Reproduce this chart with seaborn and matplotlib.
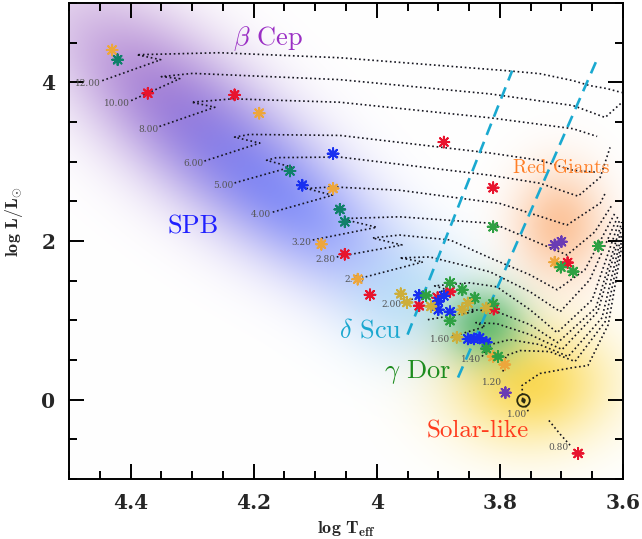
import numpy as np
import pandas as pd
import matplotlib
matplotlib.use("Agg")
import matplotlib.pyplot as plt
from matplotlib.ticker import MultipleLocator
import seaborn as sns

# evolutionary tracks, log Teff / log L
m12_logt = [4.446, 4.351, 4.390, 4.255, 4.060, 3.789, 3.735, 3.681, 3.654, 3.626, 3.602]
m12_logl = [4.021, 4.285, 4.348, 4.373, 4.310, 4.147, 4.109, 4.021, 3.959, 3.921, 3.871]
m10_logt = [4.399, 4.320, 4.350, 4.299, 4.060, 3.816, 3.681, 3.629, 3.602]
m10_logl = [3.770, 4.046, 4.072, 4.113, 4.034, 3.854, 3.707, 3.557, 3.745]
m8_logt = [4.353, 4.263, 4.301, 4.234, 4.060, 3.816, 3.681, 3.642]
m8_logl = [3.444, 3.686, 3.749, 3.792, 3.749, 3.553, 3.415, 3.318]
m6_logt = [4.280, 4.190, 4.231, 4.207, 4.060, 3.816, 3.735, 3.681, 3.642]
m6_logl = [3.008, 3.234, 3.309, 3.343, 3.331, 3.109, 3.017, 2.891, 2.866]
m5_logt = [4.231, 4.139, 4.179, 4.163, 4.060, 3.816, 3.735, 3.673, 3.637, 3.621]
m5_logl = [2.732, 2.933, 3.017, 3.051, 3.058, 2.829, 2.728, 2.565, 2.803, 3.180]
m4_logt = [4.169, 4.072, 4.114, 4.072, 3.963, 3.800, 3.691, 3.637, 3.628]
m4_logl = [2.364, 2.577, 2.662, 2.682, 2.640, 2.473, 2.201, 2.477, 2.615]
m32_logt = [4.104, 4.000, 4.049, 4.044, 3.963, 3.811, 3.691, 3.646, 3.618]
m32_logl = [2.013, 2.173, 2.264, 2.285, 2.305, 2.222, 1.824, 2.113, 2.452]
m28_logt = [4.065, 3.959, 4.007, 3.963, 3.881, 3.816, 3.751, 3.707, 3.662, 3.613]
m28_logl = [1.799, 1.950, 2.038, 2.075, 2.013, 1.787, 1.573, 1.385, 1.636, 2.352]
m24_logt = [4.018, 3.925, 3.963, 3.914, 3.816, 3.751, 3.702, 3.654, 3.608]
m24_logl = [1.548, 1.736, 1.787, 1.799, 1.611, 1.360, 1.109, 1.510, 2.314]
m20_logt = [3.958, 3.886, 3.906, 3.849, 3.805, 3.751, 3.707, 3.650, 3.605]
m20_logl = [1.234, 1.385, 1.435, 1.473, 1.422, 1.134, 0.845, 1.259, 2.276]
m18_logt = [3.917, 3.841, 3.862, 3.805, 3.751, 3.706, 3.644, 3.602]
m18_logl = [1.008, 1.109, 1.146, 1.109, 0.945, 0.719, 1.159, 2.239]
m16_logt = [3.878, 3.824, 3.839, 3.805, 3.751, 3.699, 3.641, 3.602]
m16_logl = [0.795, 0.920, 0.971, 0.958, 0.820, 0.632, 1.109, 2.163]
m14_logt = [3.829, 3.816, 3.784, 3.735, 3.689, 3.634, 3.602]
m14_logl = [0.544, 0.694, 0.757, 0.694, 0.544, 1.033, 2.088]
m1p2_logt = [3.795, 3.790, 3.767, 3.719, 3.678, 3.629, 3.602]
m1p2_logl = [0.355, 0.556, 0.619, 0.606, 0.481, 0.983, 2.012]
m1p0_logt = [3.754, 3.763, 3.764, 3.735, 3.681, 3.657, 3.624, 3.602]
m1p0_logl = [-0.147, 0.004, 0.179, 0.330, 0.405, 0.430, 0.945, 1.925]
m0p8_logt = [3.686, 3.702, 3.722]
m0p8_logl = [-0.574, -0.436, -0.247]

track_labels = ["12.00", "10.00", "8.00", "6.00", "5.00", "4.00", "3.20", "2.80",
                "2.40", "2.00", "", "1.60", "1.40", "1.20", "1.00", "0.80"]
track_logt = [m12_logt, m10_logt, m8_logt, m6_logt, m5_logt, m4_logt, m32_logt, m28_logt,
              m24_logt, m20_logt, m18_logt, m16_logt, m14_logt, m1p2_logt, m1p0_logt, m0p8_logt]
track_logl = [m12_logl, m10_logl, m8_logl, m6_logl, m5_logl, m4_logl, m32_logl, m28_logl,
              m24_logl, m20_logl, m18_logl, m16_logl, m14_logl, m1p2_logl, m1p0_logl, m0p8_logl]

# instability strip edges
blue_edge_logt = [3.950, 3.780]
blue_edge_logl = [0.820, 4.147]
red_edge_logt = [3.868, 3.641]
red_edge_logl = [0.279, 4.310]

# observed stars by colour group
red_logt = [4.372, 4.231, 4.052, 3.891, 3.811, 4.011, 3.931, 3.901, 3.881, 3.810, 3.690, 3.673]
red_logl = [3.862, 3.842, 1.833, 3.247, 2.672, 1.322, 1.184, 1.284, 1.363, 1.142, 1.728, -0.678]
orange_logt = [4.430, 4.191, 4.071, 4.090, 4.031, 3.711, 3.811, 3.792]
orange_logl = [4.407, 3.611, 2.662, 1.959, 1.519, 1.733, 0.544, 0.443]
teal_logt = [4.421, 4.141, 4.060, 4.052]
teal_logl = [4.285, 2.883, 2.398, 2.242]
blue_logt = [4.071, 4.121, 3.931, 3.900, 3.900, 3.891, 3.881, 3.852, 3.842, 3.833, 3.822]
blue_logl = [3.101, 2.703, 1.316, 1.238, 1.134, 1.309, 1.109, 0.766, 0.766, 0.778, 0.723]
green_logt = [3.811, 3.920, 3.881, 3.861, 3.881, 3.841, 3.811, 3.701, 3.681, 3.640, 3.822, 3.803]
green_logl = [2.180, 1.313, 1.473, 1.385, 0.996, 1.281, 1.209, 1.670, 1.615, 1.937, 0.644, 0.544]
gold_logt = [3.961, 3.951, 3.912, 3.861, 3.852, 3.822, 3.870]
gold_logl = [1.335, 1.225, 1.175, 1.134, 1.218, 1.155, 0.786]
purple_logt = [3.711, 3.700, 3.791]
purple_logl = [1.950, 1.991, 0.088]
sun_logt, sun_logl = 3.763, 0.0

star_colors = {"red": "#e8142e", "orange": "#eda63c", "teal": "#10806a", "blue": "#1830f0",
               "green": "#2ea043", "gold": "#cdae3a", "purple": "#6a3cb4"}

# shaded pulsator regions: logT, logL, sigma along / across (px), angle, rgb, strength
regions = [
    (4.328, 3.707, 110, 48, -41, (140, 60, 175), 0.60),
    (4.160, 2.600, 105, 40, -38, (70, 100, 255), 0.58),
    (3.946, 1.259, 46, 42, 0, (150, 220, 242), 0.45),
    (3.750, 0.200, 55, 42, 0, (250, 205, 30), 0.75),
    (3.702, 2.201, 32, 40, 0, (250, 140, 60), 0.50),
    (3.824, 0.945, 28, 26, 0, (40, 165, 75), 0.68),
]

sns.set_theme(style="ticks")
plt.rcParams["mathtext.fontset"] = "cm"
plt.rcParams["font.family"] = ["DejaVu Serif"]

fig = plt.figure(figsize=(6.42, 5.39), dpi=100)
ax = fig.add_axes([69 / 642, 1 - 479 / 539, 554 / 642, 476 / 539])

# background blobs
sx, sy = 615.0, 79.65
gx = np.linspace(4.5, 3.6, 560)
gy = np.linspace(-1, 5, 480)
GX, GY = np.meshgrid(gx, gy)
PX = (4.5 - GX) * sx
PY = (GY + 1) * sy
img = np.ones((gy.size, gx.size, 3))
for t0, l0, sa, sb, ang, rgb, s in regions:
    dx = PX - (4.5 - t0) * sx
    dy = PY - (l0 + 1) * sy
    th = np.deg2rad(ang)
    u = (dx * np.cos(th) + dy * np.sin(th)) / sa
    v = (-dx * np.sin(th) + dy * np.cos(th)) / sb
    a = (s * np.exp(-0.5 * (u ** 2 + v ** 2)))[..., None]
    img = img * (1 - a) + np.array(rgb) / 255.0 * a
ax.imshow(img, extent=[4.5, 3.6, -1, 5], origin="lower", aspect="auto",
          interpolation="bilinear", zorder=0)

# tracks
rows = []
for i, (lt, ll) in enumerate(zip(track_logt, track_logl)):
    for j, (a_, b_) in enumerate(zip(lt, ll)):
        rows.append({"track": i, "step": j, "logt": a_, "logl": b_})
tracks = pd.DataFrame(rows)
sns.lineplot(data=tracks, x="logt", y="logl", units="track", estimator=None, sort=False,
             color="#15151f", linestyle=":", lw=1.2, ax=ax, zorder=2)

for lbl, lt, ll in zip(track_labels, track_logt, track_logl):
    if not lbl:
        continue
    dy = -8 if lbl == "1.20" else -2
    ax.annotate(lbl, (lt[0], ll[0]), xytext=(-1, dy), textcoords="offset points",
                ha="right", va="center", fontsize=6.5, color="#555555", zorder=3)

# instability strip
for xs, ys in [(blue_edge_logt, blue_edge_logl), (red_edge_logt, red_edge_logl)]:
    ax.plot(xs, ys, color="#1aa9d0", lw=1.9, dashes=(4.6, 2.8), zorder=3)

# stars
groups = {"red": (red_logt, red_logl), "orange": (orange_logt, orange_logl),
          "teal": (teal_logt, teal_logl), "blue": (blue_logt, blue_logl),
          "green": (green_logt, green_logl), "gold": (gold_logt, gold_logl),
          "purple": (purple_logt, purple_logl)}
stars = pd.concat([pd.DataFrame({"logt": v[0], "logl": v[1], "kind": k}) for k, v in groups.items()])
sns.scatterplot(data=stars, x="logt", y="logl", hue="kind", palette=star_colors,
                marker=(8, 2, 0), s=60, linewidth=1.4, legend=False, ax=ax, zorder=4)

ax.plot(sun_logt, sun_logl, marker="o", ms=9, mfc="none", mec="#2b2b10", mew=1.3, zorder=4)
ax.plot(sun_logt, sun_logl, marker="o", ms=2.2, color="#2b2b10", zorder=4)

# region names
ax.text(4.177, 4.549, r"$\beta$ Cep", color="#9a2ec4", fontsize=19, family="cmr10",
        ha="center", va="center")
ax.text(4.299, 2.176, "SPB", color="#2020ff", fontsize=19, family="cmr10", ha="center", va="center")
ax.text(4.010, 0.870, r"$\delta$ Scu", color="#1aa7cf", fontsize=19, family="cmr10",
        ha="center", va="center")
ax.text(3.933, 0.355, r"$\gamma$ Dor", color="#1e8c1e", fontsize=19, family="cmr10",
        ha="center", va="center")
ax.text(3.701, 2.917, "Red Giants", color="#ff7f27", fontsize=14, family="cmr10",
        ha="center", va="center")
ax.text(3.836, -0.395, "Solar-like", color="#ff3c1e", fontsize=18, family="cmr10",
        ha="center", va="center")

ax.set_xlim(4.5, 3.6)
ax.set_ylim(-1, 5)
ax.set_xticks([4.4, 4.2, 4.0, 3.8, 3.6])
ax.set_xticklabels(["4.4", "4.2", "4", "3.8", "3.6"])
ax.set_yticks([0, 2, 4])
ax.set_yticklabels(["0", "2", "4"])
ax.xaxis.set_minor_locator(MultipleLocator(0.05))
ax.yaxis.set_minor_locator(MultipleLocator(0.5))
ax.tick_params(which="both", direction="in", top=True, right=True, color="black")
ax.tick_params(which="major", length=10.5, width=1.4, pad=10, labelsize=14.5)
ax.tick_params(which="minor", length=5.5, width=1.4)
for lab in ax.get_xticklabels() + ax.get_yticklabels():
    lab.set_fontweight("bold")
for sp in ax.spines.values():
    sp.set_linewidth(1.4)
    sp.set_color("black")

ax.set_xlabel(r"$\mathbf{log\ T_{eff}}$", fontsize=13)
ax.set_ylabel(r"$\mathbf{log\ L/L_{\odot}}$", fontsize=13)
ax.xaxis.set_label_coords(0.5, -0.085)
ax.yaxis.set_label_coords(-0.08, 0.54)

fig.savefig("out.png", dpi=100)
